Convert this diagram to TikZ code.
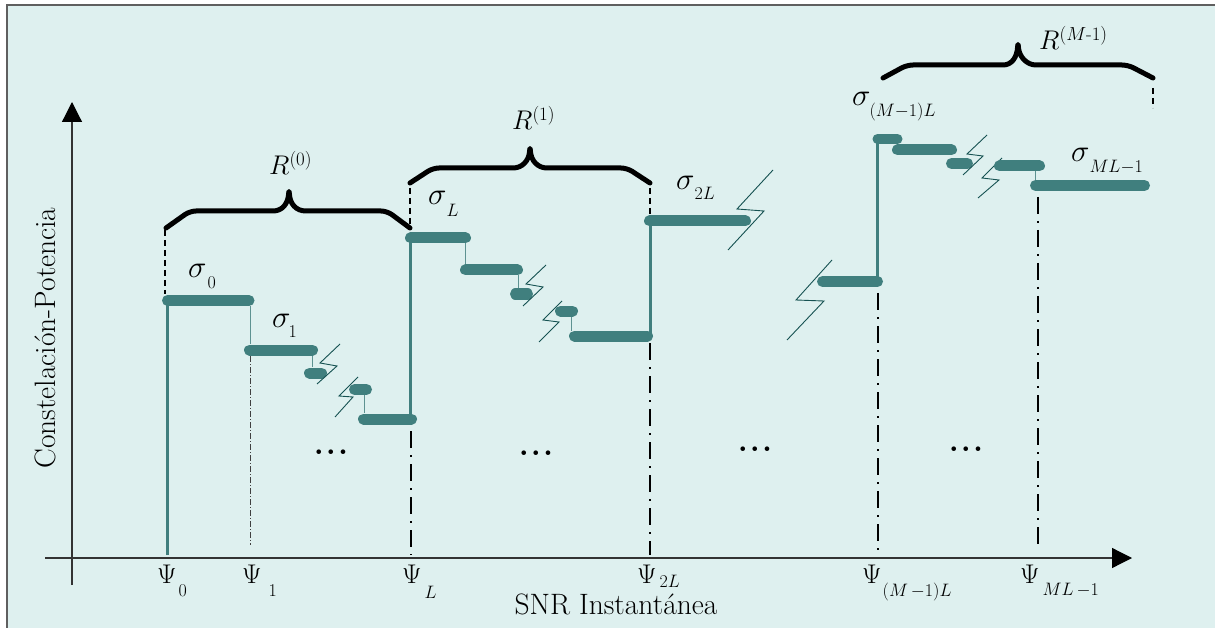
\RequirePackage{fix-cm}
\documentclass[tikz,border=0pt]{standalone}
\usepackage{amsmath}
\usetikzlibrary{arrows.meta}
\definecolor{bgc}{RGB}{222,240,239}
\definecolor{tealbar}{RGB}{64,127,126}
\definecolor{zzc}{RGB}{22,82,82}
\definecolor{framec}{RGB}{95,95,95}
% lowered subscript: #1 = drop, #2 = content
\newcommand{\ssub}[2]{\lower#1\hbox{\fontsize{18}{21}\selectfont$#2$}}
\tikzset{
  bar/.style={draw=tealbar, line width=11pt, line cap=round},
  riser/.style={draw=tealbar, line width=3pt},
  link/.style={draw=tealbar!85, line width=1pt},
  zig/.style={draw=zzc, line width=0.9pt},
  brace/.style={draw=black, line width=5pt, line cap=round, line join=round, rounded corners=6pt},
  guide/.style={draw=black, line width=1.6pt, dash pattern=on 6pt off 4pt},
  ddot/.style={draw=black, line width=2pt, dash pattern=on 17pt off 7pt on 2pt off 7pt},
  thindd/.style={draw=black!75, line width=0.7pt, dash pattern=on 6pt off 2pt on 1pt off 2pt},
  axisln/.style={draw=black!80, line width=1.2pt, -{Triangle[length=20pt,width=20pt,fill=black,color=black]}},
  lab/.style={font=\fontsize{27}{32}\selectfont, inner sep=0pt},
  siglab/.style={font=\fontsize{31}{36}\selectfont, inner sep=0pt, anchor=base west},
  psilab/.style={font=\fontsize{27}{32}\selectfont, inner sep=0pt, anchor=base west},
  txt/.style={font=\fontsize{29.5}{34}\selectfont, inner sep=0pt},
  dotsl/.style={font=\fontsize{32}{36}\selectfont\bfseries, inner sep=0pt}
}
\begin{document}
\begin{tikzpicture}[x=1pt,y=-1pt]
\useasboundingbox (0,0) rectangle (1215,628);
% frame
\fill[bgc] (7,5) rectangle (1215,628);
\draw[framec, line width=1.5pt] (7,628) -- (7,5) -- (1215,5);

% axes
\coordinate (yb) at (72,585);
\coordinate (yt) at (72,102);
\coordinate (xl) at (45,558);
\coordinate (xr) at (1132,558);
\draw[axisln] (yb) -- (yt);
\draw[axisln] (xl) -- (xr);

% ---------- group 0 ----------
\draw[riser] (167,555) -- (167,301);
\draw[guide] (165,230) -- (165,294);
\draw[bar] (167.5,300.5) -- (249,300.5);
\draw[link] (250,306) -- (250,344);
\draw[bar] (249.5,350) -- (312.5,350);
\draw[thindd] (250,356) -- (250,545);
\draw[link] (312,356) -- (312,367);
\draw[bar] (309.5,373) -- (321.5,373);
\draw[zig] (340,344) -- (320,363) -- (337,366) -- (317,384);
\draw[zig] (358,377) -- (339,396) -- (353,397) -- (335,417);
\draw[bar] (354.5,389.5) -- (366.5,389.5);
\draw[link] (364,395) -- (364,413);
\draw[bar] (363.5,419) -- (411.5,419);

% ---------- group 1 ----------
\draw[riser] (410,419) -- (410,238);
\draw[ddot] (411,431) -- (411,555);
\draw[guide] (410,188) -- (410,228);
\draw[bar] (410.5,238) -- (465.5,238);
\draw[link] (465,243) -- (465,265);
\draw[bar] (465.5,270) -- (517.5,270);
\draw[link] (518,275) -- (518,288);
\draw[bar] (515.5,294) -- (527.5,294);
\draw[zig] (546,265) -- (526,284) -- (543,287) -- (523,306);
\draw[zig] (562,301) -- (543,320) -- (559,322) -- (539,342);
\draw[bar] (560.5,311) -- (572.5,311);
\draw[link] (571,317) -- (571,331);
\draw[bar] (574.5,336) -- (647.5,336);

% ---------- group 2 ----------
\draw[riser] (650,336) -- (650,221);
\draw[ddot] (650,343) -- (650,555);
\draw[guide] (650,188) -- (650,215);
\draw[bar] (649.5,221) -- (745.5,221);
\draw[zig] (773,170) -- (737,209) -- (764,211) -- (728,250);

% ---------- group M-1 ----------
\draw[zig] (832,260) -- (796,300) -- (824,301) -- (787,340);
\draw[bar] (822.5,281.5) -- (877.5,281.5);
\draw[riser] (877,281) -- (877,138);
\draw[ddot] (878,293) -- (878,550);
\begin{scope}
  \clip (860,135) rectangle (910,150);
  \draw[bar, line width=10pt] (877.5,139) -- (897.5,139);
\end{scope}
\draw[bar] (897.5,150) -- (951.5,150);
\draw[bar] (951.5,163.5) -- (967.5,163.5);
\draw[zig] (987,135) -- (967,154) -- (983,156) -- (963,175);
\draw[zig] (1002,158) -- (982,178) -- (999,180) -- (978,198);
\draw[bar] (999.5,166) -- (1039.5,166);
\draw[link] (1035,171) -- (1035,180);
\draw[bar] (1035.5,185.5) -- (1144.5,185.5);
\draw[ddot] (1038,197) -- (1038,548);
\draw[guide] (1153,88) -- (1153,108);

% ---------- braces ----------
\draw[brace] (166,228) -- (190,211) -- (267,211) .. controls (282,211) and (288,204) .. (289,188)
   .. controls (290,204) and (296,211) .. (312,211) -- (387,211) -- (410,228);
\draw[brace] (410,183) -- (433,168) -- (507,168) .. controls (522,168) and (529,161) .. (530,145)
   .. controls (531,161) and (538,168) .. (553,168) -- (627,168) -- (650,183);
\draw[brace] (883,78) -- (907,65) -- (997,65) .. controls (1012,65) and (1017,57) .. (1018,41)
   .. controls (1019,57) and (1027,65) .. (1042,65) -- (1128,65) -- (1153,78);

\node[lab, anchor=base west] (r0) at (269,175) {$R^{(0)}$};
\node[lab, anchor=base west] (r1) at (512,130) {$R^{(1)}$};
\node[lab, anchor=base west] (rm) at (1039,50) {$R^{(M\text{-}1)}$};

% ---------- sigma labels ----------
\node[siglab] (s0) at (188,278) {$\sigma$\kern1pt\ssub{11pt}{0}};
\node[siglab] (s1) at (272,327) {$\sigma$\kern-2pt\ssub{10pt}{1}};
\node[siglab] (sL) at (428,205) {$\sigma$\kern0pt\ssub{12pt}{L}};
\node[siglab] (s2L) at (676,190) {$\sigma$\kern0pt\ssub{10pt}{2L}};
\node[siglab] (sM) at (852,106) {$\sigma$\kern-1pt\ssub{11pt}{(M{-}1)L}};
\node[siglab] (sML) at (1071,162) {$\sigma$\kern0pt\ssub{11pt}{ML{-}1}};

% ---------- psi labels ----------
\node[psilab] (p0) at (157,583) {$\Psi$\kern2pt\ssub{13pt}{0}};
\node[psilab] (p1) at (242,583) {$\Psi$\kern7pt\ssub{13pt}{1}};
\node[psilab] (pL) at (402,583) {$\Psi$\kern3pt\ssub{15pt}{L}};
\node[psilab] (p2L) at (637,583) {$\Psi$\kern3pt\ssub{4pt}{2L}};
\node[psilab] (pM) at (862,583) {$\Psi$\kern1pt\ssub{13pt}{(M\,{-}1)L}};
\node[psilab] (pML) at (1020,583) {$\Psi$\kern3pt\ssub{12pt}{ML\,{-}1}};

% ---------- dots ----------
\node[dotsl] (d1) at (331,452) {.\hspace{2pt}.\hspace{2pt}.};
\node[dotsl] (d2) at (536,453) {.\hspace{2pt}.\hspace{2pt}.};
\node[dotsl] (d3) at (755,449) {.\hspace{2pt}.\hspace{2pt}.};
\node[dotsl] (d4) at (966,449) {.\hspace{2pt}.\hspace{2pt}.};

% ---------- axis labels ----------
\node[txt, anchor=base] (xlab) at (616,614) {SNR Instantánea};
\node[txt, anchor=base, rotate=90] (ylab) at (55,338) {Constelación-Potencia};
\end{tikzpicture}
\end{document}
